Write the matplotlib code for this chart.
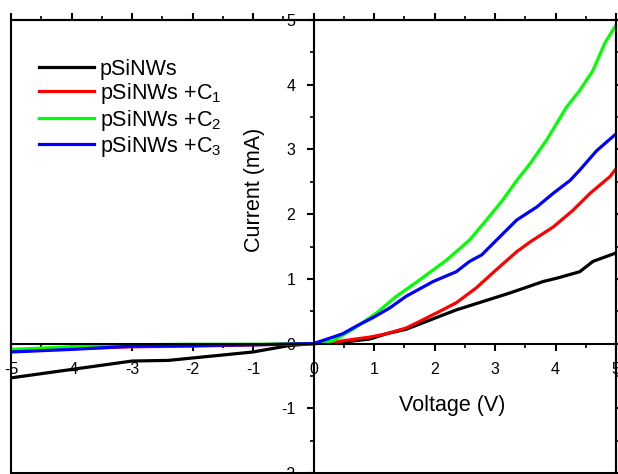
import matplotlib.pyplot as plt
from matplotlib.patches import Rectangle
from matplotlib.ticker import MultipleLocator

plt.rcParams['font.family'] = ['Liberation Sans', 'DejaVu Sans']
plt.rcParams['mathtext.fontset'] = 'custom'
plt.rcParams['mathtext.rm'] = 'Liberation Sans'
plt.rcParams['mathtext.it'] = 'Liberation Sans'
plt.rcParams['axes.unicode_minus'] = False

# data: voltage (V) and current (mA)
v_black = [-5, -4, -3, -2.4, -1, -0.4, 0, 0.37, 0.93, 1.2, 1.53, 1.86, 2.36, 2.8, 3.24, 3.8, 4.02, 4.4, 4.62, 5.0]
i_black = [-0.53, -0.40, -0.27, -0.26, -0.13, -0.03, 0, 0.01, 0.07, 0.15, 0.22, 0.34, 0.52, 0.65, 0.78, 0.96, 1.01, 1.11, 1.27, 1.40]

v_red = [-5, -4, -3, -2, -1, 0, 0.26, 0.54, 0.93, 1.2, 1.53, 1.75, 2.09, 2.36, 2.69, 3.02, 3.36, 3.58, 3.96, 4.29, 4.57, 4.9, 5.0]
i_red = [-0.12, -0.08, -0.05, -0.04, -0.02, 0, 0.01, 0.05, 0.10, 0.15, 0.24, 0.34, 0.50, 0.63, 0.86, 1.14, 1.42, 1.57, 1.80, 2.06, 2.32, 2.58, 2.70]

v_green = [-5, -4, -3, -2, -1, 0, 0.32, 0.65, 1.04, 1.37, 1.75, 2.2, 2.58, 2.86, 3.13, 3.36, 3.58, 3.85, 4.18, 4.4, 4.62, 4.82, 5.0]
i_green = [-0.09, -0.05, -0.02, -0.01, -0.01, 0, 0.04, 0.22, 0.47, 0.73, 0.98, 1.29, 1.60, 1.91, 2.22, 2.52, 2.78, 3.14, 3.65, 3.91, 4.22, 4.65, 4.92]

v_blue = [-5, -4, -3, -2, -1, 0, 0.26, 0.48, 0.71, 0.98, 1.26, 1.53, 1.98, 2.36, 2.58, 2.78, 3.08, 3.36, 3.69, 3.96, 4.24, 4.4, 4.68, 5.0]
i_blue = [-0.13, -0.09, -0.04, -0.03, -0.02, 0, 0.08, 0.15, 0.27, 0.40, 0.55, 0.73, 0.96, 1.11, 1.27, 1.37, 1.65, 1.91, 2.11, 2.32, 2.52, 2.68, 2.98, 3.24]

fig = plt.figure(figsize=(6.18, 4.74), dpi=100)
ax = fig.add_axes([11/618, 1/474, 605/618, 453/474])

ax.plot(v_black, i_black, color='black', lw=2.3, label='pSiNWs')
ax.plot(v_red, i_red, color='#ff0000', lw=2.3, label='pSiNWs +C$_1$')
ax.plot(v_green, i_green, color='#00ff00', lw=2.3, label='pSiNWs +C$_2$')
ax.plot(v_blue, i_blue, color='#0000ff', lw=2.3, label='pSiNWs +C$_3$')

ax.set_xlim(-5, 5)
ax.set_ylim(-2, 5)

# axes crossing at the origin, with a box round the plot
ax.spines['left'].set_position(('data', 0))
ax.spines['bottom'].set_position(('data', 0))
for s in ax.spines.values():
    s.set_linewidth(1.5)
ax.add_patch(Rectangle((0, 0), 1, 1, transform=ax.transAxes, fill=False,
                       lw=1.5, clip_on=False, zorder=5))

ax.xaxis.set_major_locator(MultipleLocator(1))
ax.xaxis.set_minor_locator(MultipleLocator(0.5))
ax.yaxis.set_major_locator(MultipleLocator(1))
ax.yaxis.set_minor_locator(MultipleLocator(0.5))
ax.tick_params(which='major', direction='out', length=5, width=1.5, labelsize=11.5, pad=8)
ax.tick_params(which='minor', direction='out', length=3, width=1.2)
ax.tick_params(top=True, right=True, which='both')

ax.set_xlabel('Voltage (V)', fontsize=15.5)
ax.xaxis.set_label_coords(0.729, 0.172)
ax.set_ylabel('Current (mA)', fontsize=15.5)
ax.yaxis.set_label_coords(0.42, 0.625)

ax.legend(loc='upper left', bbox_to_anchor=(0.047, 0.915), frameon=False,
          fontsize=15.5, handlelength=2.55, handletextpad=0.25,
          labelspacing=0.07, borderpad=0, borderaxespad=0)

fig.savefig('out.png', dpi=100)
